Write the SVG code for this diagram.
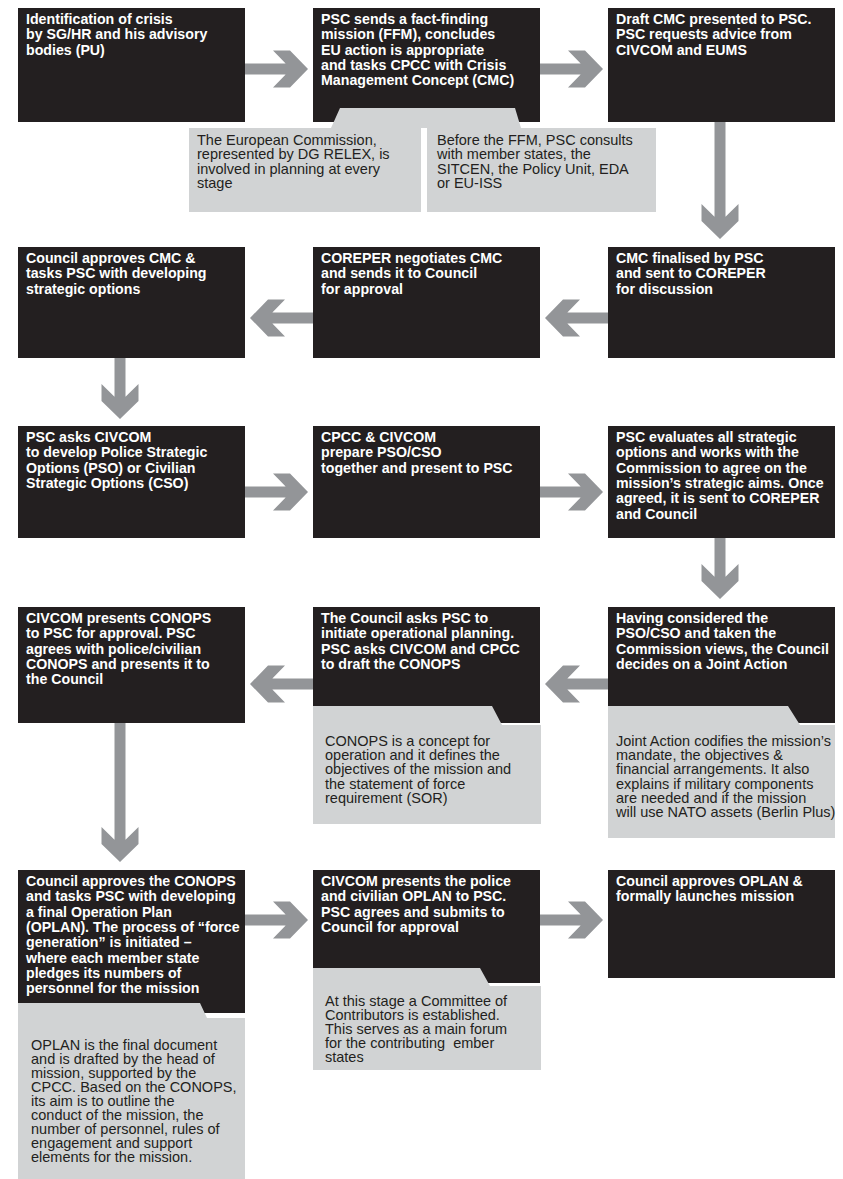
<svg xmlns="http://www.w3.org/2000/svg" width="843" height="1179" viewBox="0 0 843 1179">
<style>
.box{fill:#231f20}
.note{fill:#d1d3d4}
.arr{fill:#939598}
.bt{font-family:"Liberation Sans",Arial,sans-serif;font-weight:bold;font-size:14.2px;fill:#ffffff}
.nt{font-family:"Liberation Sans",Arial,sans-serif;font-size:14.5px;fill:#231f20}
</style>
<rect width="843" height="1179" fill="#ffffff"/>
<g id="connectors">
<polygon class="arr" points="245,63.5 285.65,63.5 273,50.5 290,50.5 308,69 290,87.5 273,87.5 285.65,74.5 245,74.5"/>
<polygon class="arr" points="540,63.5 580.65,63.5 568,50.5 585,50.5 603,69 585,87.5 568,87.5 580.65,74.5 540,74.5"/>
<polygon class="arr" points="714.5,122 714.5,216.65 701.5,204 701.5,221 720,239 738.5,221 738.5,204 725.5,216.65 725.5,122"/>
<polygon class="arr" points="608,312.5 567.35,312.5 580,299.5 563,299.5 545,318 563,336.5 580,336.5 567.35,323.5 608,323.5"/>
<polygon class="arr" points="313,312.5 272.35,312.5 285,299.5 268,299.5 250,318 268,336.5 285,336.5 272.35,323.5 313,323.5"/>
<polygon class="arr" points="114.5,358 114.5,396.65 101.5,384 101.5,401 120,419 138.5,401 138.5,384 125.5,396.65 125.5,358"/>
<polygon class="arr" points="245,486.5 285.65,486.5 273,473.5 290,473.5 308,492 290,510.5 273,510.5 285.65,497.5 245,497.5"/>
<polygon class="arr" points="540,486.5 580.65,486.5 568,473.5 585,473.5 603,492 585,510.5 568,510.5 580.65,497.5 540,497.5"/>
<polygon class="arr" points="714.5,538 714.5,576.65 701.5,564 701.5,581 720,599 738.5,581 738.5,564 725.5,576.65 725.5,538"/>
<polygon class="arr" points="608,678.5 567.35,678.5 580,665.5 563,665.5 545,684 563,702.5 580,702.5 567.35,689.5 608,689.5"/>
<polygon class="arr" points="313,678.5 272.35,678.5 285,665.5 268,665.5 250,684 268,702.5 285,702.5 272.35,689.5 313,689.5"/>
<polygon class="arr" points="114.5,723 114.5,839.65 101.5,827 101.5,844 120,862 138.5,844 138.5,827 125.5,839.65 125.5,723"/>
<polygon class="arr" points="245,914.5 285.65,914.5 273,901.5 290,901.5 308,920 290,938.5 273,938.5 285.65,925.5 245,925.5"/>
<polygon class="arr" points="540,914.5 580.65,914.5 568,901.5 585,901.5 603,920 585,938.5 568,938.5 580.65,925.5 540,925.5"/>
</g>

<g id="n1">
<rect class="box" x="18" y="8" width="227" height="114"/>
<text class="bt" x="26" y="24">Identification of crisis<tspan x="26" dy="15.3">by SG/HR and his advisory</tspan><tspan x="26" dy="15.3">bodies (PU)</tspan></text>
</g>
<g id="n2">
<rect class="box" x="313" y="8" width="227" height="114"/>
<text class="bt" x="321" y="24">PSC sends a fact-finding<tspan x="321" dy="15.3">mission (FFM), concludes</tspan><tspan x="321" dy="15.3">EU action is appropriate</tspan><tspan x="321" dy="15.3">and tasks CPCC with Crisis</tspan><tspan x="321" dy="15.3">Management Concept (CMC)</tspan></text>
</g>
<g id="n3">
<rect class="box" x="608" y="8" width="227" height="114"/>
<text class="bt" x="616" y="24">Draft CMC presented to PSC.<tspan x="616" dy="15.3">PSC requests advice from</tspan><tspan x="616" dy="15.3">CIVCOM and EUMS</tspan></text>
</g>
<g id="note1">
<path class="note" d="M189,128 L331,128 L340,108 L428,108 L428,128 L421,128 L421,212 L189,212 Z"/>
<text class="nt" x="197" y="145">The European Commission,<tspan x="197" dy="14.3">represented by DG RELEX, is</tspan><tspan x="197" dy="14.3">involved in planning at every</tspan><tspan x="197" dy="14.3">stage</tspan></text>
</g>
<g id="note2">
<path class="note" d="M427,108 L515,108 L521,128 L656,128 L656,212 L427,212 Z"/>
<text class="nt" x="437" y="145">Before the FFM, PSC consults<tspan x="437" dy="14.3">with member states, the</tspan><tspan x="437" dy="14.3">SITCEN, the Policy Unit, EDA</tspan><tspan x="437" dy="14.3">or EU-ISS</tspan></text>
</g>

<g id="n4">
<rect class="box" x="18" y="247" width="227" height="111"/>
<text class="bt" x="26" y="263">Council approves CMC &amp;<tspan x="26" dy="15.3">tasks PSC with developing</tspan><tspan x="26" dy="15.3">strategic options</tspan></text>
</g>
<g id="n5">
<rect class="box" x="313" y="247" width="227" height="111"/>
<text class="bt" x="321" y="263">COREPER negotiates CMC<tspan x="321" dy="15.3">and sends it to Council</tspan><tspan x="321" dy="15.3">for approval</tspan></text>
</g>
<g id="n6">
<rect class="box" x="608" y="247" width="227" height="111"/>
<text class="bt" x="616" y="263">CMC finalised by PSC<tspan x="616" dy="15.3">and sent to COREPER</tspan><tspan x="616" dy="15.3">for discussion</tspan></text>
</g>

<g id="n7">
<rect class="box" x="18" y="426" width="227" height="112"/>
<text class="bt" x="26" y="442">PSC asks CIVCOM<tspan x="26" dy="15.3">to develop Police Strategic</tspan><tspan x="26" dy="15.3">Options (PSO) or Civilian</tspan><tspan x="26" dy="15.3">Strategic Options (CSO)</tspan></text>
</g>
<g id="n8">
<rect class="box" x="313" y="426" width="227" height="112"/>
<text class="bt" x="321" y="442">CPCC &amp; CIVCOM<tspan x="321" dy="15.3">prepare PSO/CSO</tspan><tspan x="321" dy="15.3">together and present to PSC</tspan></text>
</g>
<g id="n9">
<rect class="box" x="608" y="426" width="227" height="112"/>
<text class="bt" x="616" y="442">PSC evaluates all strategic<tspan x="616" dy="15.3">options and works with the</tspan><tspan x="616" dy="15.3">Commission to agree on the</tspan><tspan x="616" dy="15.3">mission’s strategic aims. Once</tspan><tspan x="616" dy="15.3">agreed, it is sent to COREPER</tspan><tspan x="616" dy="15.3">and Council</tspan></text>
</g>

<g id="n10">
<rect class="box" x="18" y="607" width="227" height="116"/>
<text class="bt" x="26" y="623">CIVCOM presents CONOPS<tspan x="26" dy="15.3">to PSC for approval. PSC</tspan><tspan x="26" dy="15.3">agrees with police/civilian</tspan><tspan x="26" dy="15.3">CONOPS and presents it to</tspan><tspan x="26" dy="15.3">the Council</tspan></text>
</g>
<g id="n11">
<rect class="box" x="313" y="607" width="227" height="116"/>
<text class="bt" x="321" y="623">The Council asks PSC to<tspan x="321" dy="15.3">initiate operational planning.</tspan><tspan x="321" dy="15.3">PSC asks CIVCOM and CPCC</tspan><tspan x="321" dy="15.3">to draft the CONOPS</tspan></text>
</g>
<g id="n12">
<rect class="box" x="608" y="607" width="227" height="116"/>
<text class="bt" x="616" y="623">Having considered the<tspan x="616" dy="15.3">PSO/CSO and taken the</tspan><tspan x="616" dy="15.3">Commission views, the Council</tspan><tspan x="616" dy="15.3">decides on a Joint Action</tspan></text>
</g>
<g id="note3">
<path class="note" d="M313,706 L492,706 L502,725 L541,725 L541,824 L313,824 Z"/>
<text class="nt" x="325" y="746">CONOPS is a concept for<tspan x="325" dy="14.2">operation and it defines the</tspan><tspan x="325" dy="14.2">objectives of the mission and</tspan><tspan x="325" dy="14.2">the statement of force</tspan><tspan x="325" dy="14.2">requirement (SOR)</tspan></text>
</g>
<g id="note4">
<path class="note" d="M608,706 L788,706 L800,725 L835,725 L835,838 L608,838 Z"/>
<text class="nt" x="616" y="746">Joint Action codifies the mission’s<tspan x="616" dy="14.2">mandate, the objectives &amp;</tspan><tspan x="616" dy="14.2">financial arrangements. It also</tspan><tspan x="616" dy="14.2">explains if military components</tspan><tspan x="616" dy="14.2">are needed and if the mission</tspan><tspan x="616" dy="14.2">will use NATO assets (Berlin Plus)</tspan></text>
</g>

<g id="n13">
<rect class="box" x="18" y="870" width="227" height="143"/>
<text class="bt" x="26" y="886">Council approves the CONOPS<tspan x="26" dy="15.3">and tasks PSC with developing</tspan><tspan x="26" dy="15.3">a final Operation Plan</tspan><tspan x="26" dy="15.3">(OPLAN). The process of “force</tspan><tspan x="26" dy="15.3">generation” is initiated –</tspan><tspan x="26" dy="15.3">where each member state</tspan><tspan x="26" dy="15.3">pledges its numbers of</tspan><tspan x="26" dy="15.3">personnel for the mission</tspan></text>
</g>
<g id="n14">
<rect class="box" x="313" y="870" width="227" height="113"/>
<text class="bt" x="321" y="886">CIVCOM presents the police<tspan x="321" dy="15.3">and civilian OPLAN to PSC.</tspan><tspan x="321" dy="15.3">PSC agrees and submits to</tspan><tspan x="321" dy="15.3">Council for approval</tspan></text>
</g>
<g id="n15">
<rect class="box" x="608" y="870" width="227" height="108"/>
<text class="bt" x="616" y="886">Council approves OPLAN &amp;<tspan x="616" dy="15.3">formally launches mission</tspan></text>
</g>
<g id="note5">
<path class="note" d="M313,968 L480,968 L490,986 L541,986 L541,1070 L313,1070 Z"/>
<text class="nt" x="325" y="1006" xml:space="preserve">At this stage a Committee of<tspan x="325" dy="13.9">Contributors is established.</tspan><tspan x="325" dy="13.9">This serves as a main forum</tspan><tspan x="325" dy="13.9">for the contributing  ember</tspan><tspan x="325" dy="13.9">states</tspan></text>
</g>
<g id="note6">
<path class="note" d="M18,1003 L200,1003 L207,1018 L245,1018 L245,1179 L18,1179 Z"/>
<text class="nt" x="31" y="1050">OPLAN is the final document<tspan x="31" dy="14">and is drafted by the head of</tspan><tspan x="31" dy="14">mission, supported by the</tspan><tspan x="31" dy="14">CPCC. Based on the CONOPS,</tspan><tspan x="31" dy="14">its aim is to outline the</tspan><tspan x="31" dy="14">conduct of the mission, the</tspan><tspan x="31" dy="14">number of personnel, rules of</tspan><tspan x="31" dy="14">engagement and support</tspan><tspan x="31" dy="14">elements for the mission.</tspan></text>
</g>
</svg>
